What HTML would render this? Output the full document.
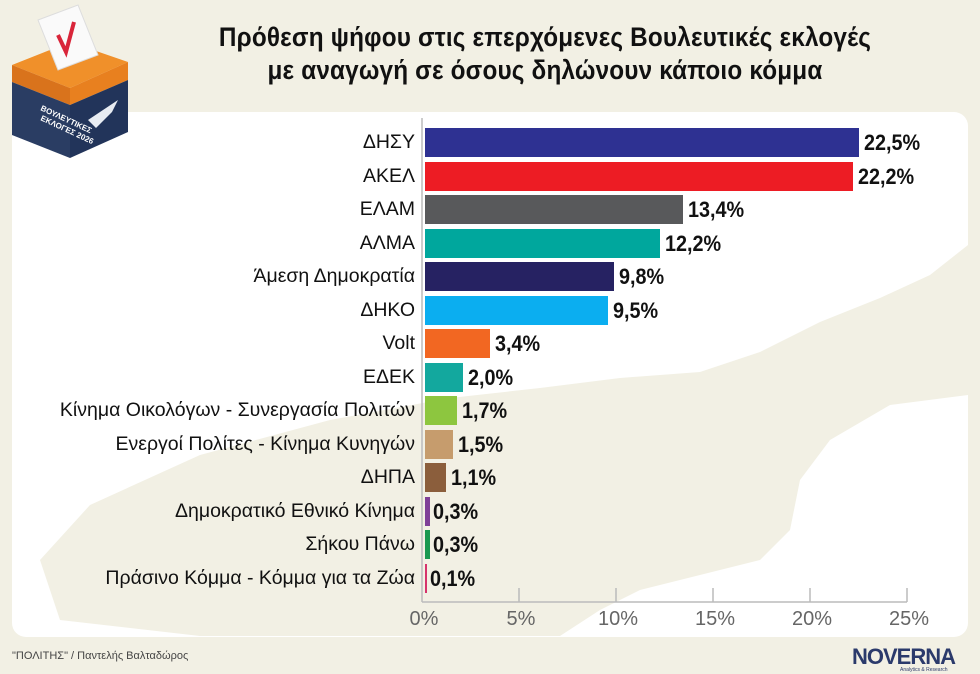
<!DOCTYPE html>
<html><head><meta charset="utf-8"><style>
body{margin:0;width:980px;height:674px;background:#f2f0e4;position:relative;overflow:hidden;font-family:"Liberation Sans",sans-serif}
.t{position:absolute;left:100px;width:890px;text-align:center;font-weight:bold;font-size:27px;color:#111;transform:scaleX(0.9);transform-origin:center;letter-spacing:0.2px}
.lab{position:absolute;right:565px;font-size:19.5px;color:#111;white-space:nowrap;line-height:29px}
.bar{position:absolute;left:425px;height:29px}
.val{position:absolute;font-weight:bold;font-size:22px;color:#111;line-height:29px;transform:scaleX(0.9);transform-origin:left}
.ax{position:absolute;top:608px;font-size:20px;color:#666;width:60px;text-align:center}
</style></head><body>
<svg width="980" height="674" style="position:absolute;left:0;top:0">
<rect x="12" y="112" width="956" height="525" rx="14" fill="#fff"/>
<path d="M968 245 L930 275 L880 298 L820 322 L760 352 L700 372 L620 378 L540 388 L450 398 L330 420 L200 455 L90 505 L40 560 L60 620 L200 636 L560 636 L600 610 L640 590 L700 575 L760 560 L790 530 L800 480 L830 440 L890 405 L968 395 Z" fill="#f2f0e4"/>
<line x1="422" y1="118" x2="422" y2="602" stroke="#bbb" stroke-width="1.5"/>
<line x1="422" y1="602" x2="907" y2="602" stroke="#bbb" stroke-width="1.5"/>
<g stroke="#bbb" stroke-width="1.5">
<line x1="519" y1="588" x2="519" y2="602"/><line x1="616" y1="588" x2="616" y2="602"/><line x1="713" y1="588" x2="713" y2="602"/><line x1="810" y1="588" x2="810" y2="602"/><line x1="907" y1="588" x2="907" y2="602"/></g>
<polygon points="12,65 70,42 128,62 70,88" fill="#f0902a"/>
<polygon points="12,65 70,88 70,105 12,82" fill="#d9731c"/>
<polygon points="70,88 128,62 128,80 70,105" fill="#e8801f"/>
<polygon points="12,82 70,105 70,158 12,135" fill="#2a3d63"/>
<polygon points="70,105 128,80 128,132 70,158" fill="#22345a"/>
<polygon points="38,20 78,5 98,55 58,70" fill="#fafafa" stroke="#ddd"/>
<path d="M58 35 L66 52 L74 22" stroke="#d9253a" stroke-width="4" fill="none"/>
<text x="40" y="110" font-size="8" fill="#fff" font-weight="bold" transform="rotate(25 40 110)">ΒΟΥΛΕΥΤΙΚΕΣ</text>
<text x="40" y="120" font-size="8" fill="#fff" font-weight="bold" transform="rotate(25 40 120)">ΕΚΛΟΓΕΣ 2026</text>
<path d="M88 120 L118 100 L112 112 L96 128 Z" fill="#e8ecf2"/>
</svg>
<div class="t" style="top:22px">Πρόθεση ψήφου στις επερχόμενες Βουλευτικές εκλογές</div>
<div class="t" style="top:55px">με αναγωγή σε όσους δηλώνουν κάποιο κόμμα</div>

<div class="lab" style="top:128px">ΔΗΣΥ</div><div class="bar" style="top:128px;width:434px;background:#2e3192"></div><div class="val" style="top:128px;left:864px">22,5%</div>
<div class="lab" style="top:161.5px">ΑΚΕΛ</div><div class="bar" style="top:161.5px;width:428px;background:#ed1c24"></div><div class="val" style="top:161.5px;left:858px">22,2%</div>
<div class="lab" style="top:195px">ΕΛΑΜ</div><div class="bar" style="top:195px;width:258px;background:#58595b"></div><div class="val" style="top:195px;left:688px">13,4%</div>
<div class="lab" style="top:228.5px">ΑΛΜΑ</div><div class="bar" style="top:228.5px;width:235px;background:#00a79d"></div><div class="val" style="top:228.5px;left:665px">12,2%</div>
<div class="lab" style="top:262px">Άμεση Δημοκρατία</div><div class="bar" style="top:262px;width:189px;background:#262262"></div><div class="val" style="top:262px;left:619px">9,8%</div>
<div class="lab" style="top:295.5px">ΔΗΚΟ</div><div class="bar" style="top:295.5px;width:183px;background:#0baef0"></div><div class="val" style="top:295.5px;left:613px">9,5%</div>
<div class="lab" style="top:329px">Volt</div><div class="bar" style="top:329px;width:65px;background:#f26722"></div><div class="val" style="top:329px;left:495px">3,4%</div>
<div class="lab" style="top:362.5px">ΕΔΕΚ</div><div class="bar" style="top:362.5px;width:38px;background:#13a89e"></div><div class="val" style="top:362.5px;left:468px">2,0%</div>
<div class="lab" style="top:396px">Κίνημα Οικολόγων - Συνεργασία Πολιτών</div><div class="bar" style="top:396px;width:32px;background:#8dc63f"></div><div class="val" style="top:396px;left:462px">1,7%</div>
<div class="lab" style="top:429.5px">Ενεργοί Πολίτες - Κίνημα Κυνηγών</div><div class="bar" style="top:429.5px;width:28px;background:#c69c6d"></div><div class="val" style="top:429.5px;left:458px">1,5%</div>
<div class="lab" style="top:463px">ΔΗΠΑ</div><div class="bar" style="top:463px;width:21px;background:#8b5e3c"></div><div class="val" style="top:463px;left:451px">1,1%</div>
<div class="lab" style="top:496.5px">Δημοκρατικό Εθνικό Κίνημα</div><div class="bar" style="top:496.5px;width:5px;background:#7f3f98"></div><div class="val" style="top:496.5px;left:433px">0,3%</div>
<div class="lab" style="top:530px">Σήκου Πάνω</div><div class="bar" style="top:530px;width:5px;background:#1a9850"></div><div class="val" style="top:530px;left:433px">0,3%</div>
<div class="lab" style="top:563.5px">Πράσινο Κόμμα - Κόμμα για τα Ζώα</div><div class="bar" style="top:563.5px;width:2px;background:#d6336c"></div><div class="val" style="top:563.5px;left:430px">0,1%</div>

<div class="ax" style="left:394px">0%</div><div class="ax" style="left:491px">5%</div><div class="ax" style="left:588px">10%</div><div class="ax" style="left:685px">15%</div><div class="ax" style="left:782px">20%</div><div class="ax" style="left:879px">25%</div>
<div style="position:absolute;left:12px;top:650px;font-size:11px;color:#444">"ΠΟΛΙΤΗΣ" / Παντελής Βαλταδώρος</div>
<div style="position:absolute;left:852px;top:644px;font-size:22px;font-weight:bold;color:#2b3a6b;letter-spacing:-1px">NOVERNA</div>
<div style="position:absolute;left:900px;top:667px;font-size:5px;color:#2b3a6b">Analytics &amp; Research</div>
</body></html>
